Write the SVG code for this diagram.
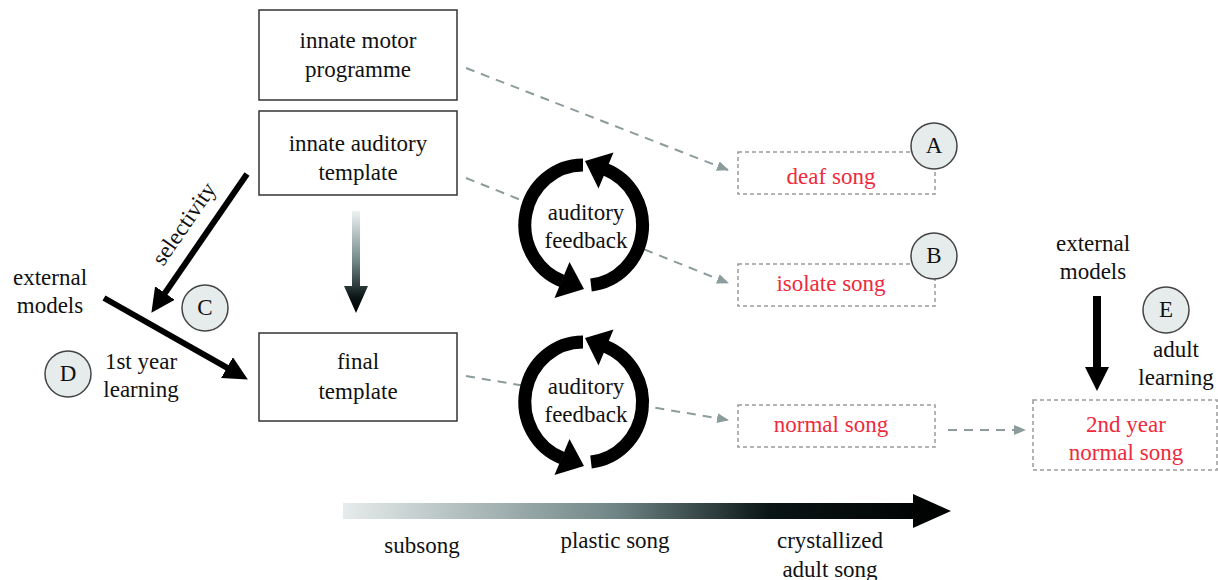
<svg xmlns="http://www.w3.org/2000/svg" width="1218" height="580" viewBox="0 0 1218 580" font-family="Liberation Serif, DejaVu Serif, serif">
<style>
text{font-family:'Liberation Serif','DejaVu Serif',serif;font-size:23px;fill:#111;text-anchor:middle}
.red{fill:#ee2a3c}
.box{fill:#fff;stroke:#333;stroke-width:1.5}
.dbox{fill:#fff;stroke:#9a9a9a;stroke-width:1.5;stroke-dasharray:4 3}
.dash{fill:none;stroke:#8c9c9c;stroke-width:2;stroke-dasharray:9 7;marker-end:url(#gh)}
.blk{fill:none;stroke:#000;stroke-width:6;marker-end:url(#bh)}
.lab{fill:#e6ebeb;stroke:#444;stroke-width:1.5}
.arc{fill:none;stroke:#000;stroke-width:13}
</style>
<defs>
<marker id="gh" markerUnits="userSpaceOnUse" markerWidth="12" markerHeight="10" refX="11" refY="5" orient="auto"><path d="M0,0 L12,5 L0,10 z" fill="#8c9c9c"/></marker>
<marker id="bh" markerUnits="userSpaceOnUse" markerWidth="24" markerHeight="24" refX="6" refY="12" orient="auto"><path d="M0,0 L24,12 L0,24 z" fill="#000"/></marker>
<linearGradient id="vg" gradientUnits="userSpaceOnUse" x1="0" y1="211" x2="0" y2="313"><stop offset="0" stop-color="#eef2f2"/><stop offset="0.5" stop-color="#6f8585"/><stop offset="0.85" stop-color="#0a1414"/><stop offset="1" stop-color="#000"/></linearGradient>
<linearGradient id="hg" gradientUnits="userSpaceOnUse" x1="343" y1="0" x2="951" y2="0"><stop offset="0" stop-color="#e6ebeb"/><stop offset="0.45" stop-color="#6f8585"/><stop offset="0.7" stop-color="#0a1515"/><stop offset="1" stop-color="#000"/></linearGradient>
<g id="fb">
<ellipse cx="584" cy="225" rx="56" ry="57" fill="#fff"/>
<path class="arc" d="M583,165 A58,60 0 0 0 562,281"/>
<path d="M554.5,298 L569.5,262 L584,289 z" fill="#000"/>
<path class="arc" d="M591,285 A58,60 0 0 0 605.7,169.5"/>
<path d="M613.5,152.6 L598.5,188.5 L585,161 z" fill="#000"/>
</g>
</defs>
<g id="connectors">
<line class="dash" x1="466" y1="68" x2="728" y2="170"/>
<line class="dash" x1="466" y1="178" x2="728" y2="283"/>
<line class="dash" x1="466" y1="376" x2="728" y2="420"/>
<line class="dash" x1="948" y1="430" x2="1025" y2="430"/>
<line class="blk" x1="247" y1="174" x2="161.6" y2="298"/>
<line class="blk" x1="104" y1="298" x2="232.2" y2="370.6"/>
<line class="blk" x1="1097" y1="296" x2="1097" y2="373" style="stroke-width:8"/>
<path d="M352,211 L360,211 L360,286 L368,286 L356,313 L344,286 L352,286 z" fill="url(#vg)"/>
<path d="M343,503 L913,503 L913,494 L951,511 L913,528 L913,519 L343,519 z" fill="url(#hg)"/>
</g>
<g id="motor"><rect class="box" x="259" y="10" width="198" height="90"/><text x="358" y="48">innate motor</text><text x="358" y="77">programme</text></g>
<g id="auditory"><rect class="box" x="259" y="111" width="198" height="84"/><text x="358" y="151">innate auditory</text><text x="358" y="180">template</text></g>
<g id="final"><rect class="box" x="259" y="333" width="198" height="88"/><text x="358" y="369">final</text><text x="358" y="399">template</text></g>
<g id="feedback1"><use href="#fb"/><text x="586" y="220">auditory</text><text x="586" y="248">feedback</text></g>
<g id="feedback2"><use href="#fb" transform="translate(0,177)"/><text x="586" y="394">auditory</text><text x="586" y="422">feedback</text></g>
<g id="deaf"><rect class="dbox" x="738" y="152" width="197" height="42"/><text class="red" x="831" y="184">deaf song</text></g>
<g id="isolate"><rect class="dbox" x="738" y="264" width="197" height="42"/><text class="red" x="831" y="291">isolate song</text></g>
<g id="normal"><rect class="dbox" x="738" y="405" width="197" height="42"/><text class="red" x="831" y="432">normal song</text></g>
<g id="second"><rect class="dbox" x="1033" y="400" width="184" height="70"/><text class="red" x="1126" y="432">2nd year</text><text class="red" x="1126" y="460">normal song</text></g>
<g id="A"><circle class="lab" cx="934" cy="146" r="23"/><text x="934" y="153">A</text></g>
<g id="B"><circle class="lab" cx="934" cy="256" r="23"/><text x="934" y="263">B</text></g>
<g id="C"><circle class="lab" cx="205" cy="308" r="23"/><text x="205" y="315">C</text></g>
<g id="D"><circle class="lab" cx="68" cy="374" r="23"/><text x="68" y="381">D</text></g>
<g id="E"><circle class="lab" cx="1166" cy="310" r="23"/><text x="1166" y="317">E</text></g>
<g id="ext1"><text x="50" y="285">external</text><text x="50" y="313">models</text></g>
<g id="learn1"><text x="141" y="369">1st year</text><text x="141" y="397">learning</text></g>
<text x="0" y="0" transform="translate(190,228) rotate(-55.5)">selectivity</text>
<g id="ext2"><text x="1093" y="251">external</text><text x="1093" y="279">models</text></g>
<g id="learn2"><text x="1176" y="357">adult</text><text x="1176" y="385">learning</text></g>
<g id="stages"><text x="422" y="553">subsong</text><text x="615" y="548">plastic song</text><text x="830" y="548">crystallized</text><text x="830" y="577">adult song</text></g>
</svg>
